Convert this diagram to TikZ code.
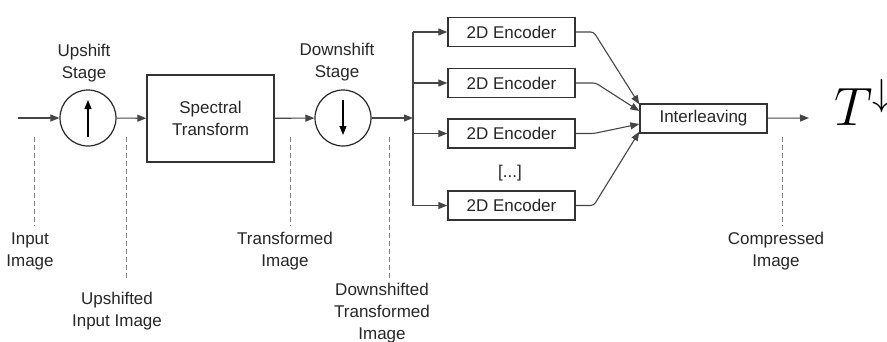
\documentclass[tikz,border=0pt]{standalone}
\usepackage{fix-cm}
\usepackage{fontspec}
\setmainfont{Liberation Sans}
\usetikzlibrary{arrows.meta,calc}
\definecolor{txtc}{HTML}{262626}
\definecolor{linec}{HTML}{454545}
\definecolor{boxc}{HTML}{333333}
\definecolor{dashc}{HTML}{808080}
\begin{document}
\begin{tikzpicture}[x=1pt,y=-1pt,
  txt/.style={font=\fontsize{17}{22}\selectfont, text=txtc, align=center, inner sep=0pt},
  blk/.style={txt, draw=boxc, line width=1.4pt, minimum width=127pt},
  stage/.style={draw=black!85, line width=1.2pt, circle, minimum size=56pt, inner sep=0pt},
  wire/.style={draw=linec, line width=1.1pt},
  flow/.style={wire, -{Triangle[length=9pt,width=7pt]}},
  guide/.style={draw=dashc, line width=1pt, dash pattern=on 5pt off 3pt},
]
\useasboundingbox (0,0) rectangle (887,341);

% blocks
\node[stage] (up) at (88,118) {};
\node[blk, minimum height=87pt] (st) at (210.5,118.5) {Spectral\\Transform};
\node[stage] (down) at (343,118) {};
\coordinate (in) at (18,118);
\coordinate (bus) at (413,118);
\node[blk, minimum height=29pt] (e1) at (511.5,32) {2D Encoder};
\node[blk, minimum height=29pt] (e2) at (511.5,83) {2D Encoder};
\node[blk, minimum height=29pt] (e3) at (511.5,133.5) {2D Encoder};
\node[blk, minimum height=29pt] (e4) at (511.5,205.5) {2D Encoder};
\node[txt] (dots) at (510,173) {[...]};
\node[blk, minimum height=29pt] (il) at (703.5,118.5) {Interleaving};
\coordinate (out) at (809,118);
\node[anchor=base west, inner sep=0pt, font=\fontsize{54}{60}\selectfont] (T) at (834,125) {$T^{\downarrow}$};

% stage labels
\node[txt] (uplbl) at (84,63.5) {Upshift\\Stage};
\node[txt] (downlbl) at (337,62.5) {Downshift\\Stage};

% main flow
\draw[flow] (in) -- (up);
\draw[flow] (up) -- (st);
\draw[flow] (st) -- (down);
\draw[flow] (down) -- (bus);
\draw[wire] (bus |- e1) -- (bus |- e4);
\foreach \e in {e1,e2,e3,e4}{\draw[flow] (bus |- \e) -- (\e.west);}
\draw[flow, rounded corners=3pt] (e1.east) -- ++(18,0) -- ($(il.north west)+(0,1)$);
\draw[flow, rounded corners=3pt] (e2.east) -- ++(20,0) -- ($(il.west)+(0,-7.5)$);
\draw[flow, rounded corners=3pt] (e3.east) -- ++(18,0) -- ($(il.west)+(0,5.5)$);
\draw[flow, rounded corners=3pt] (e4.east) -- ++(18,0) -- ($(il.south west)+(0,-2)$);
\draw[flow] (il) -- (out);

% arrows inside the stages
\draw[flow, draw=black] ($(up)+(0,19)$) -- ($(up)+(0,-18)$);
\draw[flow, draw=black] ($(down)+(0,-18)$) -- ($(down)+(0,17)$);

% signal labels with dashed guides
\coordinate (g1a) at (34,137);  \coordinate (g1b) at (34,226);
\coordinate (g2a) at (126,137); \coordinate (g2b) at (126,278);
\coordinate (g3a) at (290,137); \coordinate (g3b) at (290,226);
\coordinate (g4a) at (389,137); \coordinate (g4b) at (389,278);
\coordinate (g5a) at (782,137); \coordinate (g5b) at (782,226);
\draw[guide] (g1a) -- (g1b);
\draw[guide] (g2a) -- (g2b);
\draw[guide] (g3a) -- (g3b);
\draw[guide] (g4a) -- (g4b);
\draw[guide] (g5a) -- (g5b);
\node[txt] (l1) at (30,251) {Input\\Image};
\node[txt] (l2) at (117,311) {Upshifted\\Input Image};
\node[txt] (l3) at (285,251) {Transformed\\Image};
\node[txt] (l4) at (382,313) {Downshifted\\Transformed\\Image};
\node[txt] (l5) at (776,251) {Compressed\\Image};
\end{tikzpicture}
\end{document}
